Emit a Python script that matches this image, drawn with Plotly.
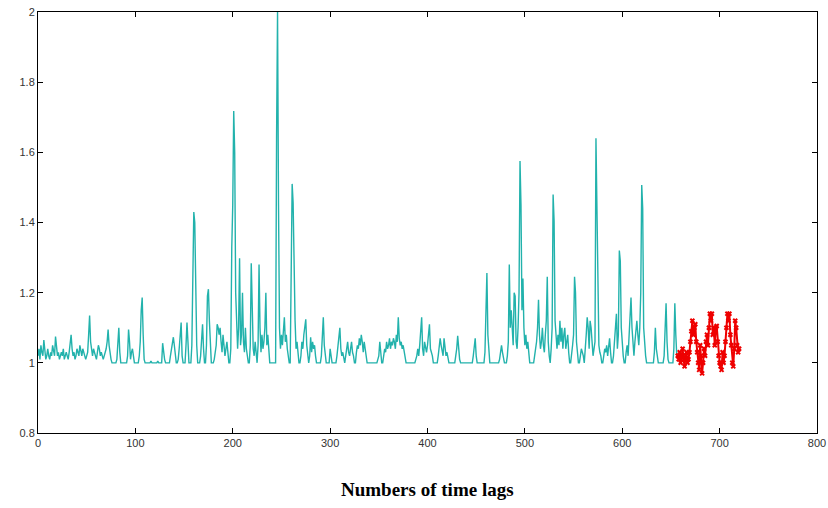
import plotly.graph_objects as go

# Teal series: values for time lags 0..656
teal_0_99 = [
    1.02, 1.04, 1.01, 1.05, 1.03, 1.02, 1.065, 1.03, 1.01, 1.02, 1.04, 1.02, 1.01, 1.03, 1.02, 1.05, 1.03, 1.02, 1.075, 1.04,
    1.02, 1.03, 1.01, 1.02, 1.03, 1.02, 1.04, 1.01, 1.02, 1.03, 1.02, 1.01, 1.03, 1.05, 1.08, 1.04, 1.02, 1.03, 1.01, 1.02,
    1.04, 1.03, 1.02, 1.05, 1.03, 1.02, 1.04, 1.03, 1.02, 1.01, 1.02, 1.03, 1.08, 1.135, 1.06, 1.03, 1.02, 1.04, 1.03, 1.02,
    1.01, 1.03, 1.05, 1.04, 1.02, 1.03, 1.02, 1.01, 1.02, 1.03, 1.04, 1.06, 1.095, 1.05, 1.02, 1.01, 1.0, 1.0, 1.0, 1.0,
    1.0, 1.01, 1.05, 1.10, 1.03, 1.0, 1.0, 1.0, 1.0, 1.0, 1.0, 1.0, 1.02, 1.095, 1.06, 1.01, 1.03, 1.04, 1.02, 1.0,
]
teal_100_199 = [
    1.0, 1.0, 1.0, 1.0, 1.02, 1.06, 1.15, 1.186, 1.08, 1.01, 1.0, 1.0, 1.0, 1.0, 1.0, 1.0, 1.005, 1.0, 1.0, 1.0,
    1.0, 1.0, 1.0, 1.005, 1.0, 1.0, 1.0, 1.0, 1.056, 1.03, 1.01, 1.0, 1.0, 1.0, 1.0, 1.0, 1.02, 1.04, 1.06, 1.073,
    1.05, 1.02, 1.0, 1.0, 1.01, 1.04, 1.08, 1.115, 1.02, 1.0, 1.0, 1.0, 1.05, 1.115, 1.06, 1.0, 1.0, 1.0, 1.05, 1.22,
    1.43, 1.40, 1.2, 1.05, 1.0, 1.0, 1.0, 1.02, 1.08, 1.11, 1.04, 1.0, 1.0, 1.05, 1.19, 1.21, 1.12, 1.03, 1.0, 1.0,
    1.0, 1.01, 1.03, 1.05, 1.11, 1.10, 1.08, 1.1, 1.06, 1.03, 1.08, 1.05, 1.02, 1.04, 1.06, 1.03, 1.0, 1.0, 1.04, 1.33,
]
teal_200_299 = [
    1.45, 1.718, 1.60, 1.2, 1.08, 1.04, 1.1, 1.298, 1.05, 1.08, 1.2, 1.06, 1.03, 1.1, 1.04, 1.02, 1.0, 1.0, 1.05, 1.284,
    1.12, 1.04, 1.02, 1.06, 1.03, 1.0, 1.05, 1.28, 1.1, 1.03, 1.08, 1.04, 1.06, 1.1, 1.2, 1.05, 1.08, 1.04, 1.0, 1.0,
    1.0, 1.0, 1.0, 1.0, 1.0, 1.64, 2.0, 1.45, 1.1, 1.04, 1.08, 1.05, 1.1, 1.13, 1.06, 1.08, 1.04, 1.02, 1.0, 1.0,
    1.21, 1.51, 1.456, 1.21, 1.12, 1.04, 1.06, 1.03, 1.0, 1.0, 1.02, 1.06, 1.04, 1.08, 1.1, 1.124, 1.05, 1.03, 1.0, 1.02,
    1.073, 1.03, 1.06, 1.04, 1.05, 1.02, 1.0, 1.0, 1.0, 1.0, 1.0, 1.02, 1.06, 1.13, 1.05, 1.02, 1.0, 1.0, 1.0, 1.0,
]
teal_300_399 = [
    1.04, 1.01, 1.0, 1.0, 1.0, 1.0, 1.0, 1.02, 1.05, 1.09, 1.1, 1.04, 1.02, 1.03, 1.01, 1.0, 1.02, 1.04, 1.06, 1.03,
    1.02, 1.04, 1.06, 1.03, 1.02, 1.0, 1.0, 1.03, 1.05, 1.04, 1.07, 1.05, 1.08, 1.06, 1.03, 1.06, 1.04, 1.02, 1.0, 1.0,
    1.0, 1.0, 1.0, 1.0, 1.0, 1.0, 1.0, 1.0, 1.0, 1.01, 1.02, 1.06, 1.03, 1.0, 1.0, 1.02, 1.04, 1.03, 1.06, 1.04,
    1.05, 1.07, 1.04, 1.06, 1.05, 1.07, 1.06, 1.04, 1.08, 1.06, 1.13, 1.07, 1.05, 1.06, 1.04, 1.05, 1.03, 1.02, 1.0, 1.0,
    1.0, 1.0, 1.0, 1.0, 1.0, 1.0, 1.0, 1.0, 1.01, 1.02, 1.04, 1.02, 1.05, 1.08, 1.13, 1.04, 1.02, 1.06, 1.04, 1.03,
]
teal_400_499 = [
    1.05, 1.08, 1.11, 1.04, 1.03, 1.02, 1.0, 1.0, 1.0, 1.0, 1.0, 1.02, 1.04, 1.07, 1.05, 1.03, 1.02, 1.07, 1.04, 1.02,
    1.03, 1.01, 1.0, 1.0, 1.0, 1.0, 1.0, 1.0, 1.0, 1.02, 1.04, 1.077, 1.03, 1.01, 1.0, 1.0, 1.0, 1.0, 1.0, 1.0,
    1.0, 1.0, 1.0, 1.0, 1.0, 1.0, 1.0, 1.02, 1.04, 1.07, 1.02, 1.0, 1.0, 1.0, 1.0, 1.0, 1.0, 1.0, 1.0, 1.03,
    1.12, 1.256, 1.08, 1.02, 1.0, 1.0, 1.0, 1.0, 1.0, 1.0, 1.0, 1.0, 1.0, 1.0, 1.01, 1.03, 1.05, 1.03, 1.01, 1.0,
    1.0, 1.0, 1.02, 1.06, 1.28, 1.1, 1.15, 1.08, 1.05, 1.2, 1.19, 1.06, 1.04, 1.1, 1.2, 1.575, 1.45, 1.15, 1.24, 1.1,
]
teal_500_599 = [
    1.05, 1.08, 1.04, 1.06, 1.02, 1.0, 1.0, 1.0, 1.0, 1.0, 1.02, 1.04, 1.06, 1.1, 1.18, 1.08, 1.04, 1.06, 1.1, 1.05,
    1.03, 1.08, 1.12, 1.245, 1.06, 1.02, 1.0, 1.04, 1.1, 1.48, 1.405, 1.12, 1.06, 1.04, 1.08, 1.05, 1.12, 1.06, 1.1, 1.04,
    1.08, 1.1, 1.04, 1.06, 1.08, 1.03, 1.0, 1.0, 1.02, 1.05, 1.08, 1.245, 1.2, 1.06, 1.03, 1.0, 1.0, 1.02, 1.04, 1.03,
    1.02, 1.0, 1.03, 1.08, 1.13, 1.1, 1.04, 1.12, 1.1, 1.05, 1.02, 1.04, 1.06, 1.64, 1.44, 1.1, 1.05, 1.03, 1.02, 1.0,
    1.0, 1.02, 1.04, 1.03, 1.05, 1.02, 1.04, 1.07, 1.03, 1.0, 1.0, 1.02, 1.06, 1.1, 1.14, 1.04, 1.08, 1.32, 1.29, 1.1,
]
teal_600_656 = [
    1.04, 1.02, 1.0, 1.0, 1.03, 1.05, 1.02, 1.08, 1.12, 1.186, 1.1, 1.04, 1.02, 1.06, 1.1, 1.12, 1.08, 1.05, 1.1, 1.2,
    1.507, 1.44, 1.1, 1.05, 1.02, 1.0, 1.0, 1.0, 1.0, 1.0, 1.0, 1.0, 1.0, 1.03, 1.1, 1.04, 1.01, 1.0, 1.0, 1.0,
    1.0, 1.0, 1.0, 1.02, 1.08, 1.17, 1.06, 1.01, 1.0, 1.0, 1.0, 1.0, 1.0, 1.04, 1.17, 1.08, 1.02,
]

# Red (forecast) series: time lags 657..720
red_values = [
    1.02, 1.01, 1.03, 1.0, 1.02, 1.04, 1.01, 0.99, 1.02, 1.03, 1.0, 1.01, 1.03, 1.06, 1.09, 1.12, 1.08, 1.1, 1.11, 1.06,
    1.03, 1.0, 0.98, 1.05, 1.02, 0.97, 1.0, 1.04, 1.02, 1.06, 1.08, 1.05, 1.1, 1.14, 1.12, 1.14, 1.08, 1.1, 1.05, 1.1,
    1.105, 1.06, 1.02, 1.0, 0.99, 0.98, 1.03, 1.0, 1.02, 1.06, 1.1, 1.14, 1.12, 1.14, 1.08, 1.05, 1.0, 0.99, 1.04, 1.12,
    1.1, 1.05, 1.03, 1.04,
]

x_ticks = [0, 100, 200, 300, 400, 500, 600, 700, 800]
y_ticks = [0.8, 1, 1.2, 1.4, 1.6, 1.8, 2]
x_title = "Numbers of time lags"

teal_values = (teal_0_99 + teal_100_199 + teal_200_299 + teal_300_399
               + teal_400_499 + teal_500_599 + teal_600_656)
teal_x = list(range(len(teal_values)))
red_start = len(teal_values)
red_x = list(range(red_start, red_start + len(red_values)))

fig = go.Figure()
fig.add_trace(go.Scatter(
    x=teal_x, y=teal_values, mode="lines",
    line=dict(color="#22b2ac", width=1.4),
    showlegend=False, hoverinfo="skip",
))
fig.add_trace(go.Scatter(
    x=red_x, y=red_values, mode="lines+markers",
    line=dict(color="#ee0000", width=2),
    marker=dict(symbol="x-thin-open", size=4, line=dict(color="#ee0000", width=2)),
    showlegend=False, hoverinfo="skip",
))

axis_common = dict(
    showgrid=False, zeroline=False, showline=True, linecolor="black", linewidth=1,
    mirror="ticks", ticks="inside", ticklen=5, tickcolor="black", automargin=False,
    ticklabeloverflow="allow",
    tickfont=dict(family="Liberation Sans, Arial, sans-serif", size=11, color="#333333"),
)
fig.update_xaxes(range=[0, 800], tickvals=x_ticks, **axis_common)
fig.update_yaxes(range=[0.8, 2], tickvals=y_ticks, **axis_common)

fig.add_annotation(
    text="<b>" + x_title + "</b>", xref="paper", yref="paper",
    x=0.5, y=-0.135, xanchor="center", yanchor="middle", showarrow=False,
    font=dict(family="Liberation Serif, Times New Roman, serif", size=19, color="black"),
)

fig.update_layout(
    width=828, height=508,
    margin=dict(l=38, r=11, t=12, b=75),
    paper_bgcolor="white", plot_bgcolor="white",
)

fig.write_html("out.html", config={"displayModeBar": False},
               post_script="document.body.style.margin='0px';")
